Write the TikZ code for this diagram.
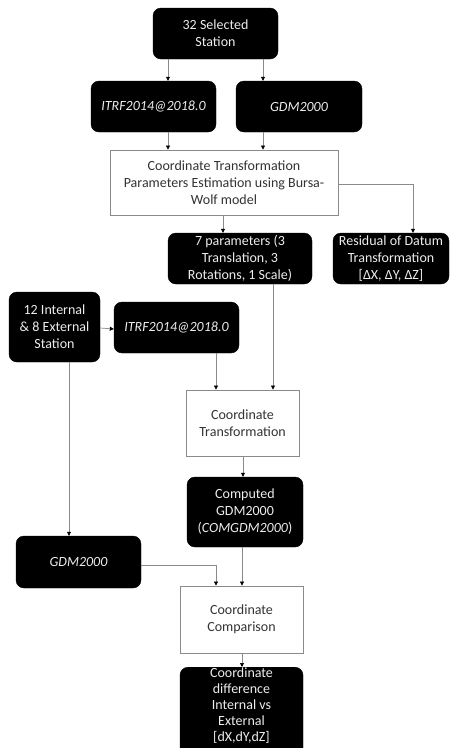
\documentclass[tikz,border=0pt]{standalone}
\usepackage{fontspec}
\setmainfont{Carlito}
\usetikzlibrary{arrows.meta}
\definecolor{ln}{HTML}{8A8A8A}
\definecolor{tx}{HTML}{EDEDED}
\tikzset{
  blk/.style={draw=black,fill=black,rounded corners=8pt,text=tx,align=center,font=\fontsize{14}{17}\selectfont,inner sep=0pt},
  wht/.style={draw=ln,fill=white,text=black!80,align=center,font=\fontsize{14}{17}\selectfont,inner sep=0pt,line width=0.8pt},
  arr/.style={draw=ln,line width=0.7pt,-{Triangle[length=4pt,width=4pt,black]}},
  ln/.style={draw=ln,line width=0.7pt}
}
\begin{document}
\begin{tikzpicture}[x=1pt,y=-1pt]
\useasboundingbox (0,0) rectangle (453,748);
\clip (0,0) rectangle (453,748);
\fill[white] (0,0) rectangle (453,748);
\node[blk,minimum width=125pt,minimum height=51pt] (sel) at (215.5,33.5) {32 Selected\\Station};
\node[blk,minimum width=125pt,minimum height=51pt] (itrfA) at (153.5,106.5) {\itshape ITRF2014@2018.0};
\node[blk,minimum width=126pt,minimum height=51pt] (gdmA) at (299,106.5) {\itshape GDM2000};
\node[wht,minimum width=228pt,minimum height=65pt] (est) at (224,182.5) {Coordinate Transformation\\Parameters Estimation using Bursa-\\Wolf model};
\node[blk,minimum width=144pt,minimum height=51pt] (par) at (240,258.5) {7 parameters (3\\Translation, 3\\Rotations, 1 Scale)};
\node[blk,minimum width=116pt,minimum height=51pt] (res) at (391,258.5) {Residual of Datum\\Transformation\\{}[ΔX, ΔY, ΔZ]};
\node[blk,minimum width=91pt,minimum height=70pt] (inte) at (54.5,327) {12 Internal\\\& 8 External\\Station};
\node[blk,minimum width=125pt,minimum height=51pt] (itrfB) at (176.5,327.5) {\itshape ITRF2014@2018.0};
\node[wht,minimum width=113pt,minimum height=66pt] (ct) at (242.5,423) {Coordinate\\Transformation};
\node[blk,minimum width=116pt,minimum height=70pt] (comp) at (245,512) {Computed\\GDM2000\\(\textit{COMGDM2000})};
\node[blk,minimum width=125pt,minimum height=52pt] (gdmB) at (78.5,562) {\itshape GDM2000};
\node[wht,minimum width=123pt,minimum height=67pt] (cmp) at (241.5,619.5) {Coordinate\\Comparison};
\node[blk,minimum width=123pt,minimum height=96pt,anchor=north] (fin) at (241.5,667) {};
\node[text=tx,align=center,font=\fontsize{14}{16}\selectfont,inner sep=0pt] (fint) at (241.5,706) {Coordinate\\difference\\Internal vs\\External\\{}[dX,dY,dZ]};
\coordinate (xa) at (168,0);
\coordinate (xb) at (263,0);
\coordinate (xc) at (223,0);
\coordinate (xr) at (413,0);
\coordinate (xd) at (216,0);
\coordinate (xe) at (273,0);
\coordinate (xf) at (243,0);
\coordinate (xg) at (69,0);
\coordinate (xh) at (242,0);
\draw[arr] (sel.south -| xa) -- (itrfA.north -| xa);
\draw[arr] (sel.south -| xb) -- (gdmA.north -| xb);
\draw[arr] (itrfA.south -| xa) -- (est.north -| xa);
\draw[arr] (gdmA.south -| xb) -- (est.north -| xb);
\draw[arr] ([yshift=-1.5pt]est.east) -| (res.north -| xr);
\draw[arr] (est.south -| xc) -- (par.north -| xc);
\draw[arr] ([yshift=-1pt]inte.east) -- ([yshift=-1.5pt]itrfB.west);
\draw[arr] (itrfB.south -| xd) -- (ct.north -| xd);
\draw[arr] (par.south -| xe) -- (ct.north -| xe);
\draw[arr] (ct.south -| xf) -- (comp.north -| xf);
\draw[arr] (inte.south -| xg) -- (gdmB.north -| xg);
\draw[arr] ([yshift=-3pt]gdmB.east) -| (cmp.north -| xd);
\draw[arr] (comp.south -| xh) -- (cmp.north -| xh);
\draw[arr] (cmp.south -| xh) -- (fin.north -| xh);
\end{tikzpicture}
\end{document}
